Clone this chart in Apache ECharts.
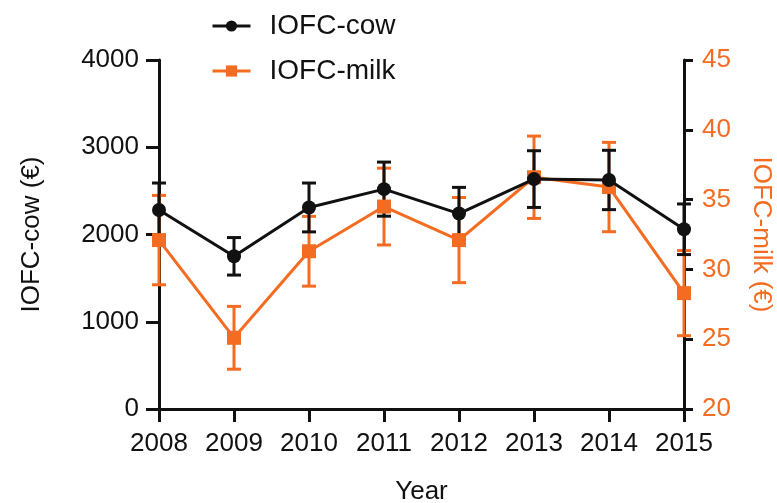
<!DOCTYPE html>
<html lang="en">
<head>
    <meta charset="UTF-8">
    <title>IOFC per year</title>
    <script src="https://cdn.jsdelivr.net/npm/echarts@6/dist/echarts.min.js"></script>
    <style>
        body { margin: 0; padding: 0; background: #fff; }
        #chart { width: 777px; height: 503px; }
    </style>
</head>
<body>
    <div id="chart"></div>
    <script>
        // data
        const years = ['2008', '2009', '2010', '2011', '2012', '2013', '2014', '2015'];
        const cowMean = [2280, 1750, 2310, 2520, 2240, 2635, 2625, 2060];
        const cowErr = [310, 215, 280, 310, 300, 325, 340, 290];
        const milkMean = [32.1, 25.1, 31.3, 34.5, 32.1, 36.6, 35.9, 28.3];
        const milkErr = [3.2, 2.25, 2.5, 2.75, 3.05, 2.95, 3.2, 3.05];

        const BLACK = '#111';
        const ORANGE = '#f36c21';
        const FONT = 'Liberation Sans, Arial, sans-serif';

        const chart = echarts.init(document.getElementById('chart'));

        // [index, low, high] for error bars
        function errData(mean, err) {
            return mean.map((m, i) => [i, m - err[i], m + err[i]]);
        }

        function errRender(color) {
            return function(params, api) {
                const x = api.value(0);
                const top = api.coord([x, api.value(2)]);
                const bot = api.coord([x, api.value(1)]);
                const hw = 7;
                const style = { stroke: color, lineWidth: 3 };
                return {
                    type: 'group',
                    children: [
                        { type: 'line', shape: { x1: top[0], y1: top[1], x2: bot[0], y2: bot[1] }, style: style },
                        { type: 'line', shape: { x1: top[0] - hw, y1: top[1], x2: top[0] + hw, y2: top[1] }, style: style },
                        { type: 'line', shape: { x1: bot[0] - hw, y1: bot[1], x2: bot[0] + hw, y2: bot[1] }, style: style }
                    ]
                };
            };
        }

        const plain = v => String(v);

        const option = {
            backgroundColor: '#fff',
            animation: false,
            textStyle: { fontFamily: FONT },
            grid: { left: 159, right: 93, top: 60, bottom: 94, outerBoundsMode: 'none', containLabel: false },
            legend: {
                orient: 'vertical',
                left: 206,
                top: 7,
                itemWidth: 38,
                itemHeight: 14,
                itemGap: 17,
                lineStyle: { width: 3 },
                textStyle: { fontSize: 28, color: BLACK, fontFamily: FONT, padding: [0, 0, 0, 14] },
                data: ['IOFC-cow', 'IOFC-milk']
            },
            xAxis: {
                type: 'category',
                data: years,
                boundaryGap: false,
                name: 'Year',
                nameLocation: 'middle',
                nameGap: 70,
                nameTextStyle: { fontSize: 26, color: BLACK },
                axisLine: { lineStyle: { color: BLACK, width: 3 } },
                axisTick: { length: 13, interval: 0, lineStyle: { color: BLACK, width: 3 } },
                axisLabel: { fontSize: 26, color: BLACK, margin: 22, interval: 0 },
                splitLine: { show: false }
            },
            yAxis: [
                {
                    type: 'value',
                    min: 0,
                    max: 4000,
                    interval: 1000,
                    name: 'IOFC-cow (€)',
                    nameLocation: 'middle',
                    nameGap: 114,
                    nameTextStyle: { fontSize: 26, color: BLACK },
                    axisLine: { show: true, lineStyle: { color: BLACK, width: 3 } },
                    axisTick: { show: true, inside: false, length: 13, lineStyle: { color: BLACK, width: 3 } },
                    axisLabel: { fontSize: 26, color: BLACK, margin: 20, formatter: plain },
                    splitLine: { show: false }
                },
                {
                    type: 'value',
                    position: 'right',
                    min: 20,
                    max: 45,
                    interval: 5,
                    name: 'IOFC-milk (€)',
                    nameLocation: 'middle',
                    nameGap: 64,
                    nameRotate: -90,
                    nameTextStyle: { fontSize: 26, color: ORANGE },
                    axisLine: { show: true, lineStyle: { color: BLACK, width: 3 } },
                    axisTick: { show: true, inside: false, length: 9, lineStyle: { color: BLACK, width: 3 } },
                    axisLabel: { fontSize: 26, color: ORANGE, margin: 18, formatter: plain },
                    splitLine: { show: false }
                }
            ],
            series: [
                {
                    type: 'custom',
                    yAxisIndex: 1,
                    renderItem: errRender(ORANGE),
                    encode: { x: 0, y: [1, 2] },
                    data: errData(milkMean, milkErr),
                    silent: true,
                    z: 1
                },
                {
                    type: 'custom',
                    yAxisIndex: 0,
                    renderItem: errRender(BLACK),
                    encode: { x: 0, y: [1, 2] },
                    data: errData(cowMean, cowErr),
                    silent: true,
                    z: 2
                },
                {
                    name: 'IOFC-milk',
                    type: 'line',
                    yAxisIndex: 1,
                    data: milkMean,
                    symbol: 'rect',
                    symbolSize: 14,
                    lineStyle: { color: ORANGE, width: 3 },
                    itemStyle: { color: ORANGE },
                    z: 3
                },
                {
                    name: 'IOFC-cow',
                    type: 'line',
                    yAxisIndex: 0,
                    data: cowMean,
                    symbol: 'circle',
                    symbolSize: 14,
                    lineStyle: { color: BLACK, width: 3 },
                    itemStyle: { color: BLACK },
                    z: 4
                }
            ]
        };

        chart.setOption(option);
    </script>
</body>
</html>
